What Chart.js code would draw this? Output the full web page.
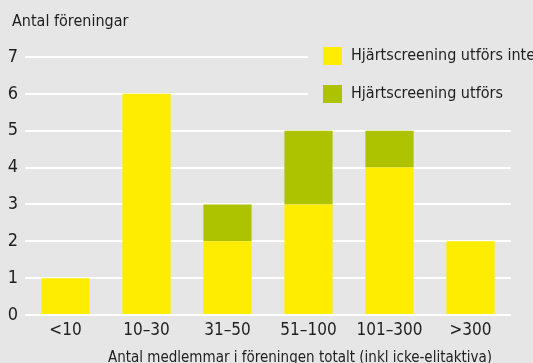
<!DOCTYPE html>
<html>
<head>
<meta charset="utf-8">
<script src="https://cdn.jsdelivr.net/npm/chart.js@4/dist/chart.umd.min.js"></script>
<style>
  html, body { margin: 0; padding: 0; background: #e6e6e6; }
  #wrap { width: 533px; height: 363px; position: relative; }
</style>
</head>
<body>
<div id="wrap"><canvas id="c" width="533" height="363"></canvas></div>
<script>
const categories = ['<10', '10–30', '31–50', '51–100', '101–300', '>300'];
const notScreened = [1, 6, 2, 3, 4, 2];
const screened = [0, 0, 1, 2, 1, 0];
const yTicks = [0, 1, 2, 3, 4, 5, 6, 7];
const seriesNames = ['Hjärtscreening utförs inte', 'Hjärtscreening utförs'];
const yTitle = 'Antal föreningar';
const xTitle = 'Antal medlemmar i föreningen totalt (inkl icke-elitaktiva)';

const FONT = '"Liberation Sans Narrow", "DejaVu Sans Condensed", Roboto, sans-serif';
const INK = '#1e1e1e';
const BG = '#e6e6e6';

// Titles and the legend panel drawn directly on the canvas
const decorations = {
  id: 'decorations',
  beforeDraw(chart) {
    const ctx = chart.ctx;
    ctx.save();
    ctx.fillStyle = BG;
    ctx.fillRect(0, 0, chart.width, chart.height);
    ctx.restore();
  },
  afterDatasetsDraw(chart) {
    const ctx = chart.ctx;
    ctx.save();
    ctx.fillStyle = INK;
    ctx.font = '16px ' + FONT;
    ctx.textBaseline = 'alphabetic';
    ctx.textAlign = 'left';
    ctx.fillText(yTitle, 12, 26);
    ctx.textAlign = 'center';
    ctx.font = '15px ' + FONT;
    ctx.fillText(xTitle, 300, 362);

    // legend panel
    ctx.fillStyle = BG;
    ctx.fillRect(308, 40, chart.width - 308, 72);
    chart.data.datasets.forEach((ds, i) => {
      const y = 47 + i * 38;
      ctx.fillStyle = ds.backgroundColor;
      ctx.fillRect(323, y, 19, 18);
      ctx.fillStyle = INK;
      ctx.textAlign = 'left';
      ctx.textBaseline = 'middle';
      ctx.font = '16px ' + FONT;
      ctx.fillText(ds.label, 351, y + 9);
    });
    ctx.restore();
  }
};

new Chart(document.getElementById('c'), {
  type: 'bar',
  data: {
    labels: categories,
    datasets: [
      { label: seriesNames[0], data: notScreened, backgroundColor: '#ffed00', borderWidth: 0 },
      { label: seriesNames[1], data: screened, backgroundColor: '#adc300', borderWidth: 0 }
    ]
  },
  options: {
    responsive: false,
    animation: false,
    devicePixelRatio: 1,
    layout: { padding: { top: 57, right: 22, left: 0, bottom: 0 } },
    plugins: {
      legend: { display: false },
      title: { display: false },
      tooltip: { enabled: false }
    },
    datasets: { bar: { categoryPercentage: 1, barPercentage: 0.595 } },
    scales: {
      x: {
        stacked: true,
        grid: { display: false, drawTicks: false },
        border: { display: false },
        ticks: { color: INK, font: { family: FONT, size: 17 }, padding: 5 },
        afterFit(s) { s.height = 48; }
      },
      y: {
        stacked: true,
        min: 0,
        max: 7,
        afterBuildTicks(s) { s.ticks = yTicks.map(v => ({ value: v })); },
        grid: { color: '#ffffff', lineWidth: 2, drawTicks: false },
        border: { display: false },
        ticks: { color: INK, font: { family: FONT, size: 18 }, padding: 7 },
        afterFit(s) { s.width = 25; }
      }
    }
  },
  plugins: [decorations]
});
</script>
</body>
</html>
